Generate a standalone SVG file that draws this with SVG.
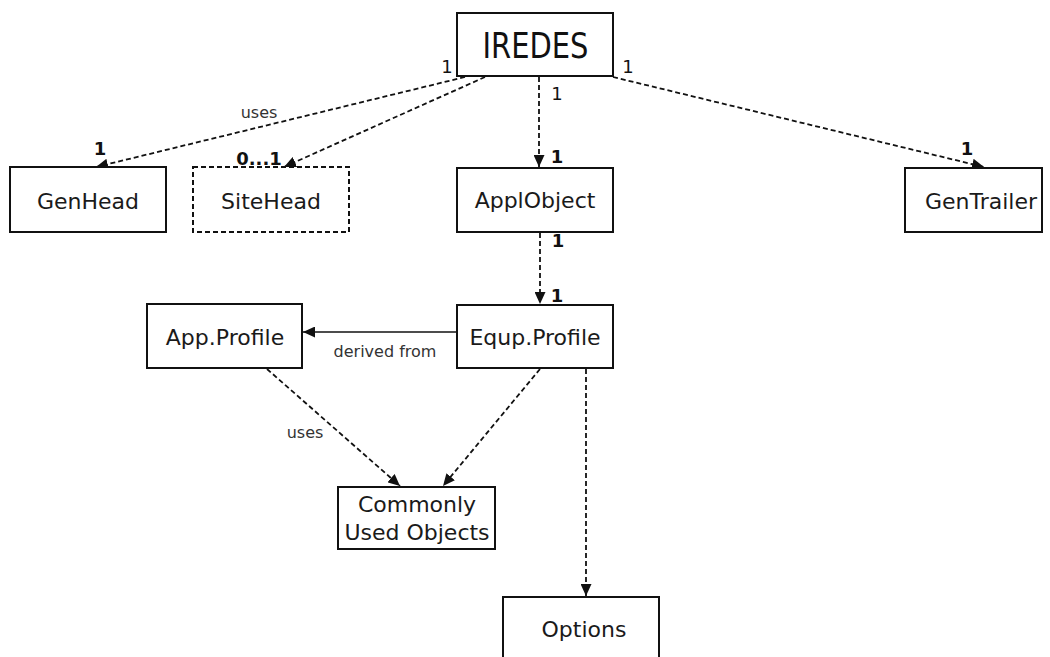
<svg xmlns="http://www.w3.org/2000/svg" width="1050" height="657" viewBox="0 0 1050 657">
  <style>
    .box { fill: #ffffff; stroke: #111111; stroke-width: 2; }
    .box-opt { fill: #ffffff; stroke: #111111; stroke-width: 2; stroke-dasharray: 5 3; }
    .name { font-family: "DejaVu Sans", "Liberation Sans", sans-serif; font-size: 22px; fill: #1a1a1a; text-anchor: middle; }
    .title { font-family: "DejaVu Sans", "Liberation Sans", sans-serif; font-size: 36px; fill: #111111; text-anchor: middle; }
    .lbl { font-family: "DejaVu Sans", "Liberation Sans", sans-serif; font-size: 16px; fill: #333333; text-anchor: middle; }
    .mult { font-family: "DejaVu Sans", "Liberation Sans", sans-serif; font-size: 18px; fill: #111111; text-anchor: middle; }
    .mult-b { font-family: "DejaVu Sans", "Liberation Sans", sans-serif; font-size: 18px; font-weight: bold; fill: #111111; text-anchor: middle; }
    .dep { fill: none; stroke: #111111; stroke-width: 1.8; stroke-dasharray: 5 3; }
    .gen { fill: none; stroke: #111111; stroke-width: 1.5; }
  </style>
  <defs>
    <marker id="arrow" markerUnits="userSpaceOnUse" markerWidth="13" markerHeight="11" refX="12" refY="5.5" orient="auto">
      <path d="M0,0 L12,5.5 L0,11 z" fill="#111111"/>
    </marker>
  </defs>

  <rect width="1050" height="657" fill="#ffffff"/>

  <!-- connectors -->
  <g id="connectors">
    <line class="dep" x1="465" y1="77" x2="96" y2="167" marker-end="url(#arrow)"/>
    <line class="dep" x1="485" y1="77" x2="284" y2="167" marker-end="url(#arrow)"/>
    <line class="dep" x1="539" y1="77" x2="539" y2="167" marker-end="url(#arrow)"/>
    <line class="dep" x1="613" y1="77" x2="984" y2="167" marker-end="url(#arrow)"/>
    <line class="dep" x1="540" y1="233" x2="540" y2="304" marker-end="url(#arrow)"/>
    <line class="gen" x1="457" y1="332" x2="303" y2="332" marker-end="url(#arrow)"/>
    <line class="dep" x1="267" y1="369" x2="400" y2="486" marker-end="url(#arrow)"/>
    <line class="dep" x1="540" y1="369" x2="443" y2="486" marker-end="url(#arrow)"/>
    <line class="dep" x1="586" y1="369" x2="586" y2="596" marker-end="url(#arrow)"/>

    <!-- connector labels and multiplicities -->
    <text class="lbl" x="259" y="118">uses</text>
    <text class="lbl" x="385" y="357">derived from</text>
    <text class="lbl" x="305" y="438">uses</text>
    <text class="mult" x="447" y="73">1</text>
    <text class="mult" x="628" y="73">1</text>
    <text class="mult" x="557" y="100">1</text>
    <text class="mult-b" x="100" y="155">1</text>
    <text class="mult-b" x="259" y="165">0...1</text>
    <text class="mult-b" x="557" y="163">1</text>
    <text class="mult-b" x="558" y="247">1</text>
    <text class="mult-b" x="557" y="302">1</text>
    <text class="mult-b" x="967" y="155">1</text>
  </g>

  <!-- nodes -->
  <g id="iredes">
    <rect class="box" x="457" y="13" width="156" height="63"/>
    <text class="title" x="535.5" y="58" textLength="106" lengthAdjust="spacingAndGlyphs">IREDES</text>
  </g>
  <g id="genhead">
    <rect class="box" x="10" y="167" width="156" height="65"/>
    <text class="name" x="88" y="209">GenHead</text>
  </g>
  <g id="sitehead">
    <rect class="box-opt" x="193" y="167" width="156" height="65"/>
    <text class="name" x="271" y="209">SiteHead</text>
  </g>
  <g id="applobject">
    <rect class="box" x="457" y="168" width="156" height="64"/>
    <text class="name" x="535" y="208">ApplObject</text>
  </g>
  <g id="gentrailer">
    <rect class="box" x="905" y="168" width="137" height="64"/>
    <text class="name" x="981" y="209">GenTrailer</text>
  </g>
  <g id="equp-profile">
    <rect class="box" x="457" y="305" width="156" height="63"/>
    <text class="name" x="535" y="345">Equp.Profile</text>
  </g>
  <g id="app-profile">
    <rect class="box" x="147" y="304" width="155" height="64"/>
    <text class="name" x="225" y="345">App.Profile</text>
  </g>
  <g id="commonly-used-objects">
    <rect class="box" x="338" y="487" width="157" height="62"/>
    <text class="name" x="417" y="512">Commonly</text>
    <text class="name" x="417" y="540">Used Objects</text>
  </g>
  <g id="options">
    <rect class="box" x="503" y="597" width="156" height="66"/>
    <text class="name" x="584" y="637">Options</text>
  </g>
</svg>
